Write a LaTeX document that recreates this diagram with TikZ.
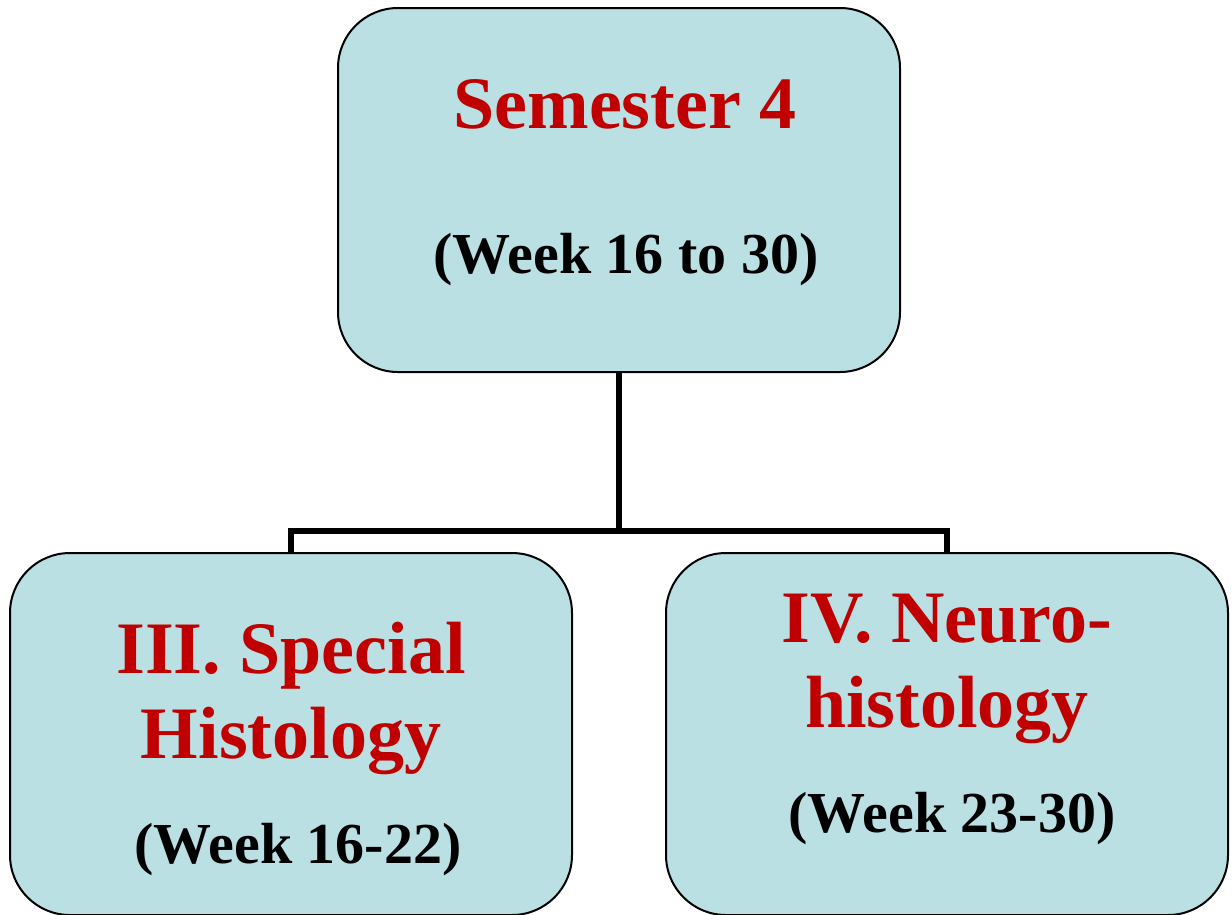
\documentclass[tikz,border=0pt]{standalone}
\usepackage{fontspec}
\setmainfont{Liberation Serif}
\definecolor{boxfill}{HTML}{BAE0E3}
\definecolor{titlered}{HTML}{C00000}
\begin{document}
\begin{tikzpicture}[x=1pt,y=-1pt,
  box/.style={draw=black, line width=2pt, fill=boxfill, rounded corners=60pt, inner sep=0pt},
  big/.style={anchor=base, text=titlered, font=\fontsize{74}{85}\selectfont\bfseries, inner sep=0pt},
  sub/.style={anchor=base, text=black, font=\fontsize{58}{66}\selectfont\bfseries, inner sep=0pt},
  conn/.style={line width=6pt}]
\useasboundingbox (0,0) rectangle (1232,914);
\node[box, minimum width=562pt, minimum height=364pt] (top) at (619,190) {};
\node[box, minimum width=562pt, minimum height=362pt] (left) at (291,734) {};
\node[box, minimum width=562pt, minimum height=362pt] (right) at (947,734) {};
\coordinate (j) at (619,531);
\draw[conn] (top.south) -- (j);
\draw[conn] (left.north) |- (j) -| (right.north);
\node[big] (t1) at (625,128) {Semester 4};
\node[sub] (t2) at (626,273) {(Week 16 to 30)};
\node[big] (l1) at (291,673) {III. Special};
\node[big] (l2) at (291,758) {Histology};
\node[sub] (l3) at (298,863) {(Week 16-22)};
\node[big] (r1) at (947,642) {IV. Neuro-};
\node[big] (r2) at (947,727) {histology};
\node[sub] (r3) at (952,832) {(Week 23-30)};
\end{tikzpicture}
\end{document}
